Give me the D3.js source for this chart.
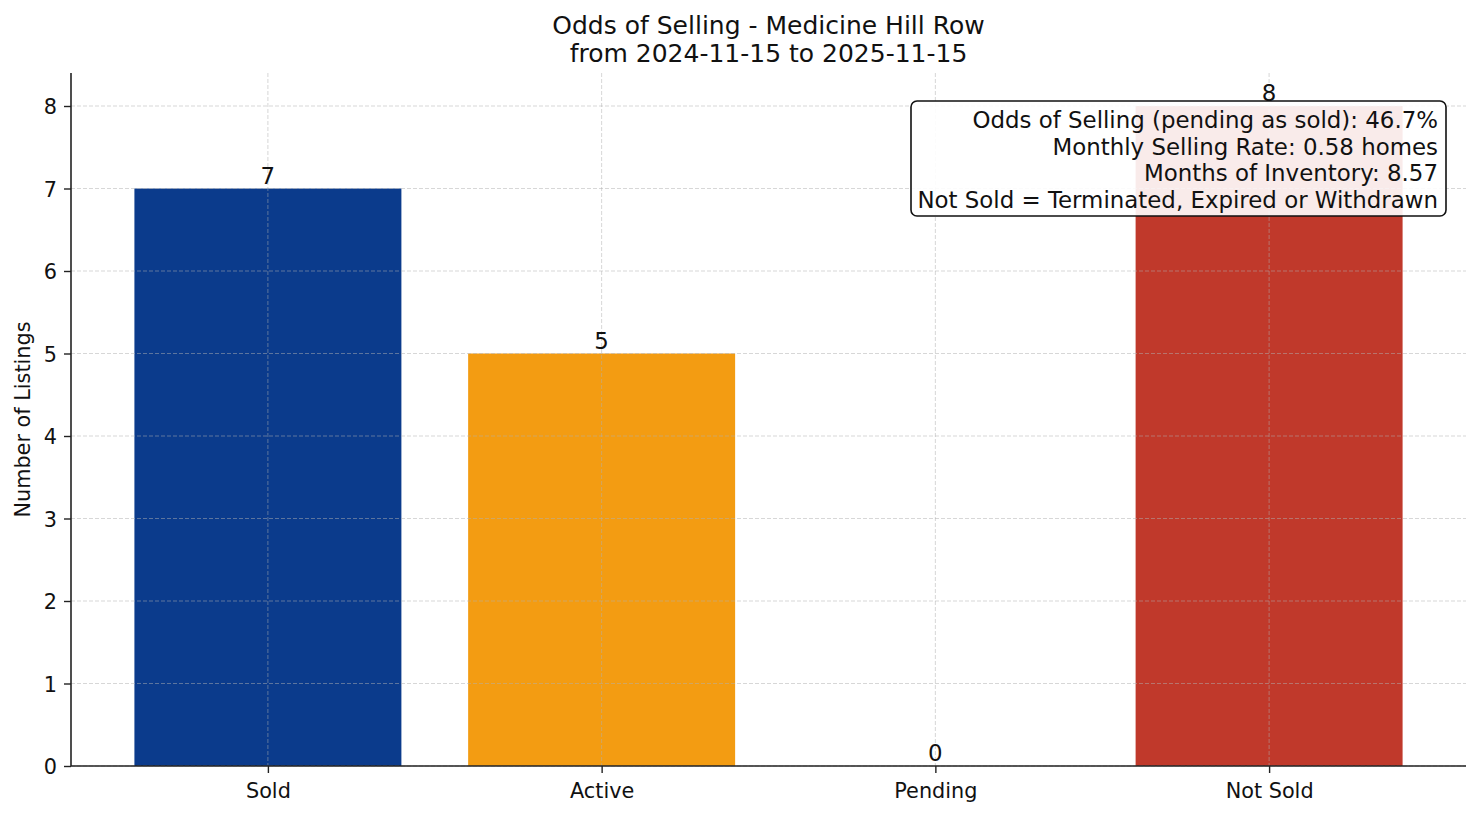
<!DOCTYPE html>
<html><head><meta charset="utf-8">
<script src="https://cdn.jsdelivr.net/npm/d3@7"></script>
<style>
body{margin:0;background:#fff;}
text{font-family:"DejaVu Sans",sans-serif;}
</style></head>
<body><svg id="c" width="1481" height="816"></svg>
<script>
const categories = ["Sold","Active","Pending","Not Sold"];
const counts = [7,5,0,8];
const colors = ["#0b3b8c","#f39c12","#f39c12","#c0392b"];
const yTicks = [0,1,2,3,4,5,6,7,8];
const titleLines = ["Odds of Selling - Medicine Hill Row","from 2024-11-15 to 2025-11-15"];
const noteLines = ["Odds of Selling (pending as sold): 46.7%","Monthly Selling Rate: 0.58 homes","Months of Inventory: 8.57","Not Sold = Terminated, Expired or Withdrawn"];

const svg = d3.select("#c");
const L=71, R=1466, T=73, B=766;
const x = d3.scaleLinear().domain([-0.59,3.59]).range([L,R]);
const y = d3.scaleLinear().domain([0,8.4]).range([B,T]);
const bw = 0.8;
const tickFs = 20.8, noteFs = 22.9, titleFs = 25;

// bars
svg.selectAll("rect.bar").data(counts).enter().append("rect")
  .attr("x",(d,i)=>x(i-bw/2)).attr("width",(d,i)=>x(i+bw/2)-x(i-bw/2))
  .attr("y",d=>y(d)).attr("height",d=>B-y(d)).attr("fill",(d,i)=>colors[i]);

// grid
const g = svg.append("g");
yTicks.forEach(t=>g.append("line").attr("x1",L).attr("x2",R).attr("y1",y(t)).attr("y2",y(t))
  .attr("stroke","#b0b0b0").attr("stroke-opacity",0.5).attr("stroke-dasharray","4,2").attr("stroke-width",1));
categories.forEach((c,i)=>g.append("line").attr("x1",x(i)).attr("x2",x(i)).attr("y1",T).attr("y2",B)
  .attr("stroke","#b0b0b0").attr("stroke-opacity",0.5).attr("stroke-dasharray","4,2").attr("stroke-width",1));

// axes
const ya = svg.append("g").attr("transform",`translate(${L},0)`)
  .call(d3.axisLeft(y).tickValues(yTicks).tickFormat(d3.format("d")).tickSize(7).tickPadding(7));
const xa = svg.append("g").attr("transform",`translate(0,${B})`)
  .call(d3.axisBottom(x).tickValues([0,1,2,3]).tickFormat(i=>categories[i]).tickSize(7).tickPadding(9));
[ya,xa].forEach(a=>{
  a.attr("font-size",null).attr("font-family",null);
  a.select(".domain").attr("stroke","#222").attr("stroke-width",1.6);
  a.selectAll(".tick line").attr("stroke","#222").attr("stroke-width",1.4);
  a.selectAll(".tick text").attr("font-size",tickFs).attr("fill","#111").attr("font-family","DejaVu Sans");
});
ya.selectAll(".tick text").attr("dy","0.36em");
xa.selectAll(".tick text").attr("dy","0.76em");
ya.select(".domain").attr("d",`M0,${B}V${T}`);
xa.select(".domain").attr("d",`M${L},0H${R}`);

// value labels
svg.selectAll("text.val").data(counts).enter().append("text")
  .attr("x",(d,i)=>x(i)).attr("y",d=>y(d)-5).attr("text-anchor","middle")
  .attr("font-size",noteFs).attr("fill","#111").text(d=>d);

// y label
svg.append("text").attr("transform",`translate(30,${(T+B)/2}) rotate(-90)`)
  .attr("text-anchor","middle").attr("font-size",tickFs).attr("fill","#111").text("Number of Listings");

// title
titleLines.forEach((t,i)=>svg.append("text").attr("x",(L+R)/2).attr("y",34+i*28)
  .attr("text-anchor","middle").attr("font-size",titleFs).attr("fill","#111").text(t));

// annotation box
svg.append("rect").attr("x",911).attr("y",101).attr("width",535).attr("height",115)
  .attr("rx",6).attr("fill","#fff").attr("fill-opacity",0.9).attr("stroke","#111").attr("stroke-width",1.6);
noteLines.forEach((t,i)=>svg.append("text").attr("x",1438).attr("y",128+i*26.5)
  .attr("text-anchor","end").attr("font-size",noteFs).attr("fill","#111").text(t));
</script></body></html>
